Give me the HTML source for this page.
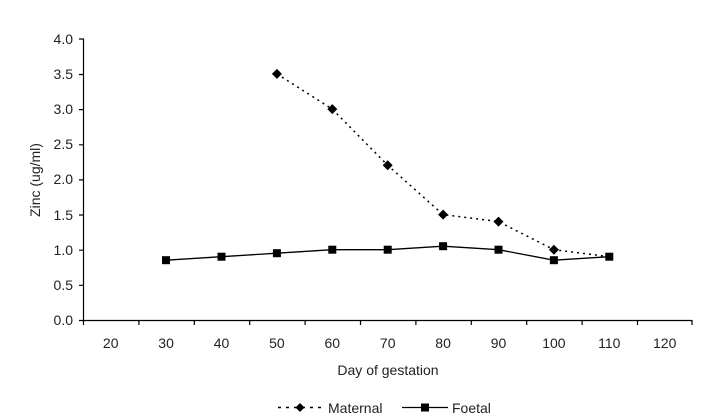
<!DOCTYPE html>
<html><head><style>body{margin:0;background:#fff}svg{display:block}text{font-family:"Liberation Sans","DejaVu Sans",sans-serif;font-size:14px;fill:#222}</style></head>
<body>
<svg width="725" height="420" xmlns="http://www.w3.org/2000/svg">
<g stroke="#000" stroke-width="1.2" fill="none">
<path d="M83.5 38.5V320.5H692"/>
<path d="M79 320.5h4M79 285.3h4M79 250.2h4M79 215h4M79 179.9h4M79 144.8h4M79 109.6h4M79 74.5h4M79 39h4"/>
<path d="M83.5 320v5M138.9 320v5M194.3 320v5M249.7 320v5M305.1 320v5M360.5 320v5M415.9 320v5M471.3 320v5M526.7 320v5M582.1 320v5M637.5 320v5M692 320v5"/>
</g>
<g text-anchor="end">
<text x="73" y="325">0.0</text><text x="73" y="290">0.5</text><text x="73" y="255">1.0</text><text x="73" y="220">1.5</text><text x="73" y="184">2.0</text><text x="73" y="149">2.5</text><text x="73" y="114">3.0</text><text x="73" y="79">3.5</text><text x="73" y="44">4.0</text>
</g>
<text transform="translate(40 180) rotate(-90)" text-anchor="middle">Zinc (ug/ml)</text>
<g text-anchor="middle">
<text x="110.7" y="348">20</text><text x="166.1" y="348">30</text><text x="221.5" y="348">40</text><text x="276.9" y="348">50</text><text x="332.3" y="348">60</text><text x="387.7" y="348">70</text><text x="443.1" y="348">80</text><text x="498.5" y="348">90</text><text x="553.9" y="348">100</text><text x="609.3" y="348">110</text><text x="664.7" y="348">120</text>
<text x="388" y="375">Day of gestation</text>
</g>
<polyline fill="none" stroke="#000" stroke-width="1.5" stroke-dasharray="2,4" points="276.9,73.9 332.3,109.1 387.7,165.3 443.1,214.6 498.5,221.6 553.9,249.7 609.3,256.7"/>
<polyline fill="none" stroke="#000" stroke-width="1.3" points="166.1,260.2 221.5,256.7 276.9,253.2 332.3,249.7 387.7,249.7 443.1,246.2 498.5,249.7 553.9,260.2 609.3,256.7"/>
<g fill="#000">
<path d="M276.9 68.9l5 5-5 5-5-5z"/><path d="M332.3 104.1l5 5-5 5-5-5z"/><path d="M387.7 160.3l5 5-5 5-5-5z"/><path d="M443.1 209.6l5 5-5 5-5-5z"/><path d="M498.5 216.6l5 5-5 5-5-5z"/><path d="M553.9 244.7l5 5-5 5-5-5z"/>
<rect x="162" y="256.2" width="8" height="8"/><rect x="217.5" y="252.7" width="8" height="8"/><rect x="272.9" y="249.2" width="8" height="8"/><rect x="328.3" y="245.7" width="8" height="8"/><rect x="383.7" y="245.7" width="8" height="8"/><rect x="439.1" y="242.2" width="8" height="8"/><rect x="494.5" y="245.7" width="8" height="8"/><rect x="549.9" y="256.2" width="8" height="8"/><rect x="605.3" y="252.7" width="8" height="8"/>
</g>
<line x1="278" y1="407.5" x2="326" y2="407.5" stroke="#000" stroke-width="1.5" stroke-dasharray="3,5"/>
<path d="M300 403l4.5 4.5-4.5 4.5-4.5-4.5z" fill="#000"/>
<text x="328" y="413">Maternal</text>
<line x1="402" y1="407.5" x2="448" y2="407.5" stroke="#000" stroke-width="1.3"/>
<rect x="421" y="403.5" width="8" height="8" fill="#000"/>
<text x="452" y="413">Foetal</text>
</svg>
</body></html>
